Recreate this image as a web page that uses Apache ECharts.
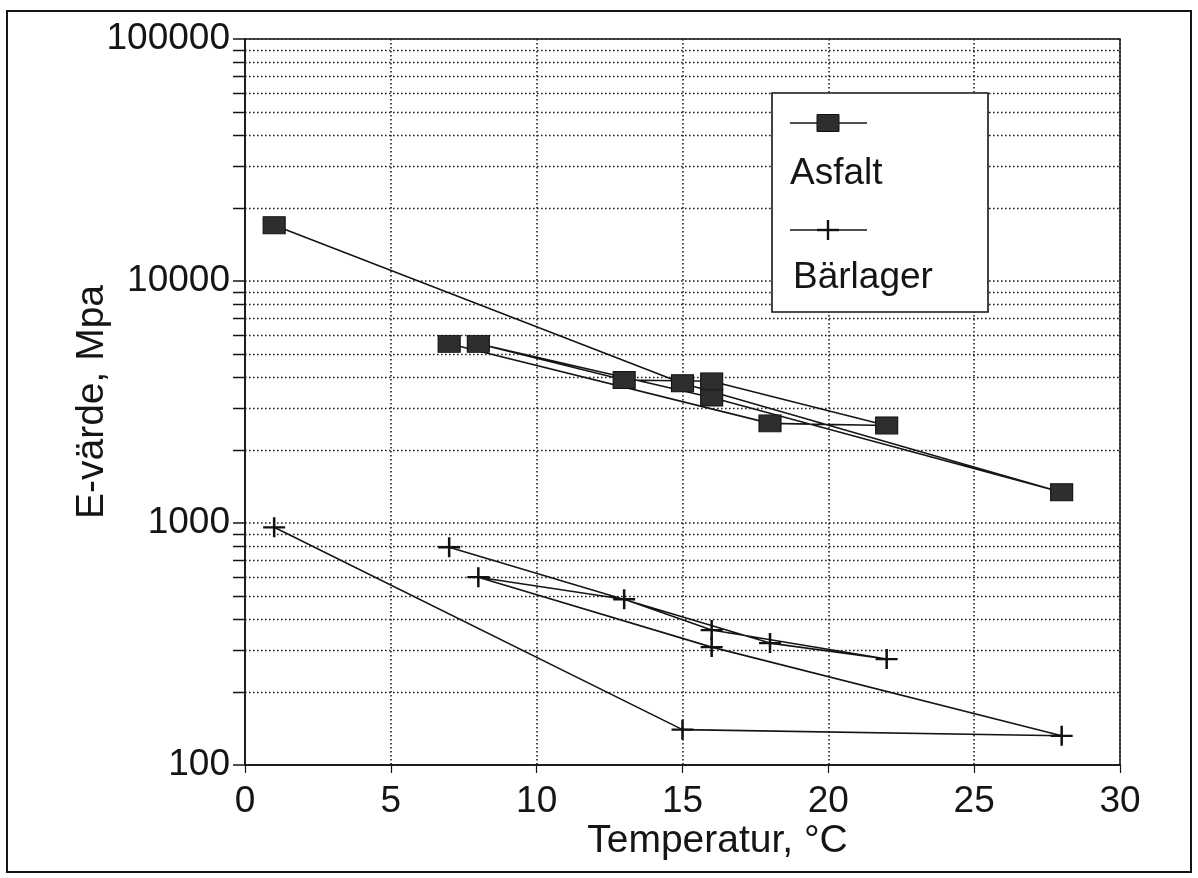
<!DOCTYPE html>
<html><head><meta charset="utf-8">
<script src="https://cdn.jsdelivr.net/npm/echarts@6/dist/echarts.min.js"></script>
<style>html,body{margin:0;padding:0;background:#fff}#c{width:1198px;height:878px}</style>
</head><body><div id="c"></div>
<script>
// ---- data ----
const temps    = [1, 15, 28, 16, 8, 13, 16, 22, 18, 7];
const asfalt   = [17000, 3780, 1340, 3300, 5500, 3900, 3850, 2530, 2580, 5500];
const barlager = [960, 140, 132, 307, 597, 484, 361, 274, 319, 794];
const seriesNames = ['Asfalt', 'Bärlager'];
const xName = 'Temperatur, °C';
const yName = 'E-värde, Mpa';
const xMin = 0, xMax = 30, xStep = 5;
const yMin = 100, yMax = 100000;
const minorMultipliers = [2, 3, 4, 5, 6, 7, 8, 9];
const decades = [100, 1000, 10000];

const FONT = "'Liberation Sans', Arial, Helvetica, sans-serif";
const INK = '#151515';
const GRIDC = '#202020';
const DASH = [1.6, 2.4];

const chart = echarts.init(document.getElementById('c'), null, {renderer: 'canvas'});
const plusPath = 'path://M0,10 L20,10 M10,0 L10,20';

const option = {
  animation: false,
  backgroundColor: '#fff',
  grid: {left: 245, right: 78, top: 39, bottom: 113, show: true, borderColor: INK, borderWidth: 1.5, backgroundColor: 'transparent'},
  xAxis: {
    type: 'value', min: xMin, max: xMax, interval: xStep,
    name: xName, nameLocation: 'middle', nameGap: 57, nameMoveOverlap: false,
    nameTextStyle: {fontFamily: FONT, fontSize: 39, color: INK, padding: [0, 0, 0, 70]},
    axisLine: {show: true, onZero: false, lineStyle: {color: INK, width: 1.5}},
    axisTick: {show: true, inside: false, length: 8, lineStyle: {color: INK, width: 1.2}},
    axisLabel: {fontFamily: FONT, fontSize: 37, color: INK, margin: 18},
    splitLine: {show: true, lineStyle: {color: GRIDC, width: 1.6, type: DASH}}
  },
  yAxis: {
    type: 'log', logBase: 10, min: yMin, max: yMax,
    name: yName, nameLocation: 'middle', nameGap: 133, nameRotate: 90, nameMoveOverlap: false,
    nameTextStyle: {fontFamily: FONT, fontSize: 39, color: INK},
    axisLine: {show: true, lineStyle: {color: INK, width: 1.5}},
    axisTick: {show: true, inside: false, length: 12, lineStyle: {color: INK, width: 1.5}},
    axisLabel: {fontFamily: FONT, fontSize: 37, color: INK, margin: 15, formatter: v => String(v)},
    splitLine: {show: true, lineStyle: {color: GRIDC, width: 1.6, type: DASH}}
  },
  series: [
    {
      name: seriesNames[0], type: 'line', data: temps.map((t, i) => [t, asfalt[i]]),
      symbol: 'rect', symbolSize: [22, 17], z: 5,
      itemStyle: {color: '#2e2e2e', borderColor: '#111', borderWidth: 1},
      lineStyle: {color: INK, width: 1.6}
    },
    {
      name: seriesNames[1], type: 'line', data: temps.map((t, i) => [t, barlager[i]]),
      symbol: plusPath, symbolSize: [22, 20], z: 5,
      itemStyle: {color: 'rgba(0,0,0,0)', borderColor: '#111', borderWidth: 2.4},
      lineStyle: {color: INK, width: 1.6}
    }
  ]
};
chart.setOption(option);

// minor log gridlines + outward minor ticks, positioned through the axis scale
const g = [];
const x0 = chart.convertToPixel({xAxisIndex: 0}, xMin);
const x1 = chart.convertToPixel({xAxisIndex: 0}, xMax);
decades.forEach(d => minorMultipliers.forEach(m => {
  const y = Math.round(chart.convertToPixel({yAxisIndex: 0}, d * m)) + 0.5;
  g.push({type: 'line', z: 1, silent: true, shape: {x1: x0, y1: y, x2: x1, y2: y},
          style: {stroke: GRIDC, lineWidth: 1.6, lineDash: DASH}});
  g.push({type: 'line', z: 1, silent: true, shape: {x1: x0 - 12, y1: y, x2: x0, y2: y},
          style: {stroke: INK, lineWidth: 1.5}});
}));

// outer frame
g.push({type: 'rect', z: 50, silent: true, shape: {x: 7, y: 11, width: 1184, height: 861},
        style: {fill: 'none', stroke: INK, lineWidth: 2}});

// legend box
const L = {x: 772, y: 93, w: 216, h: 219};
g.push({type: 'rect', z: 100, shape: {x: L.x, y: L.y, width: L.w, height: L.h},
        style: {fill: '#fff', stroke: INK, lineWidth: 1.6}});
g.push({type: 'line', z: 101, shape: {x1: 790, y1: 123, x2: 867, y2: 123}, style: {stroke: INK, lineWidth: 1.6}});
g.push({type: 'rect', z: 102, shape: {x: 817, y: 114.5, width: 22, height: 17}, style: {fill: '#2e2e2e', stroke: '#111', lineWidth: 1}});
g.push({type: 'text', z: 101, x: 790, y: 174, style: {text: seriesNames[0], font: '37px ' + FONT, fill: INK, textVerticalAlign: 'middle', verticalAlign: 'middle'}});
g.push({type: 'line', z: 101, shape: {x1: 790, y1: 230, x2: 867, y2: 230}, style: {stroke: INK, lineWidth: 1.6}});
g.push({type: 'line', z: 102, shape: {x1: 817, y1: 230, x2: 839, y2: 230}, style: {stroke: '#111', lineWidth: 2.4}});
g.push({type: 'line', z: 102, shape: {x1: 828, y1: 220, x2: 828, y2: 240}, style: {stroke: '#111', lineWidth: 2.4}});
g.push({type: 'text', z: 101, x: 793, y: 278, style: {text: seriesNames[1], font: '37px ' + FONT, fill: INK, textVerticalAlign: 'middle', verticalAlign: 'middle'}});

chart.setOption({graphic: {elements: g}});
</script>
</body></html>
